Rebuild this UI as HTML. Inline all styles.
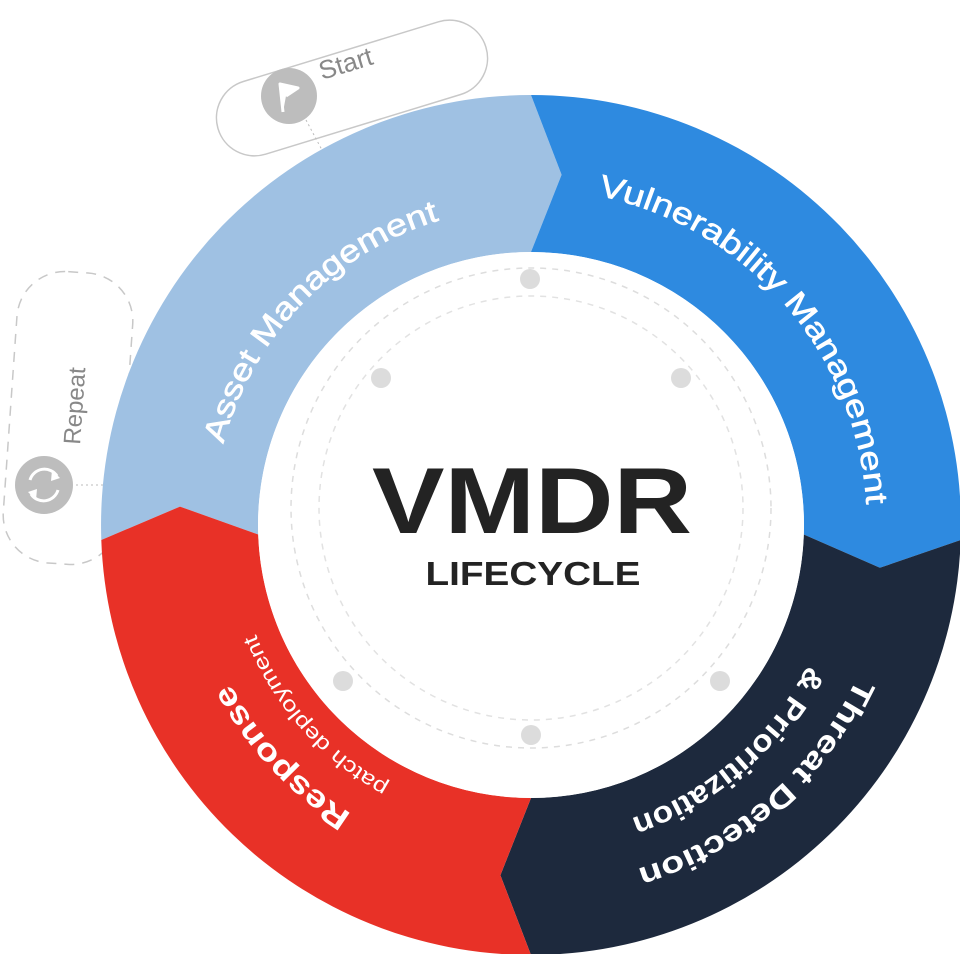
<!DOCTYPE html>
<html><head><meta charset="utf-8"><style>
html,body{margin:0;padding:0;background:#fff;}
svg{display:block;}
text{font-family:"Liberation Sans",sans-serif;}
</style></head><body>
<svg id="s" width="960" height="954" viewBox="0 0 960 954" xmlns="http://www.w3.org/2000/svg">
<defs>
<path id="tAsset" d=""/><path id="tVuln" d=""/><path id="tT1" d=""/><path id="tT2" d=""/><path id="tR1" d=""/><path id="tR2" d=""/>
</defs>
<g transform="rotate(-17 352 88)">
<rect x="212" y="50" width="280" height="76" rx="38" fill="none" stroke="#c8c8c8" stroke-width="1.5"/>
</g>
<line x1="306" y1="120" x2="322" y2="150" stroke="#bbb" stroke-dasharray="2 3"/>
<circle cx="289" cy="96" r="28" fill="#bdbdbd"/>
<path d="M283 112 L280 84 L298 88 L286 96" fill="#fff" stroke="#fff" stroke-width="3" stroke-linejoin="round"/>
<text x="322" y="80" font-size="26" fill="#888" transform="rotate(-17 322 80)">Start</text>
<g transform="rotate(4 68 418)">
<rect x="10" y="272" width="116" height="292" rx="48" fill="none" stroke="#c8c8c8" stroke-width="1.5" stroke-dasharray="10 8"/>
</g>
<line x1="76" y1="485" x2="103" y2="485" stroke="#bbb" stroke-dasharray="2 3"/>
<circle cx="44" cy="485" r="29" fill="#bdbdbd"/>
<path d="M30 480 A15 15 0 0 1 57 476 M58 490 A15 15 0 0 1 31 494" fill="none" stroke="#fff" stroke-width="3"/>
<path d="M52 470 L60 478 L51 481Z M36 500 L28 492 L37 489Z" fill="#fff"/>
<text x="80" y="445" font-size="24" fill="#888" transform="rotate(-86 80 445)">Repeat</text>
<g id="segs"></g>
<circle cx="531" cy="525" r="273" fill="#fff"/>
<circle cx="531" cy="508" r="240" fill="none" stroke="#ddd" stroke-width="1.5" stroke-dasharray="6 6"/>
<circle cx="531" cy="508" r="212" fill="none" stroke="#e2e2e2" stroke-width="1.5" stroke-dasharray="6 6"/>
<g fill="#dcdcdc"><circle cx="530" cy="279" r="10"/><circle cx="681" cy="378" r="10"/><circle cx="381" cy="378" r="10"/><circle cx="343" cy="681" r="10"/><circle cx="720" cy="681" r="10"/><circle cx="531" cy="735" r="10"/></g>
<text x="532" y="533" font-size="94" font-weight="bold" fill="#232323" text-anchor="middle" textLength="320" lengthAdjust="spacingAndGlyphs">VMDR</text>
<text x="533" y="585" font-size="33" font-weight="bold" fill="#232323" text-anchor="middle" textLength="215" lengthAdjust="spacingAndGlyphs">LIFECYCLE</text>
<g id="txt" fill="#fff">
<text font-size="31" stroke="#fff" stroke-width="0.6"><textPath href="#tAsset" startOffset="50%" text-anchor="middle" textLength="325" lengthAdjust="spacingAndGlyphs">Asset Management</textPath></text>
<text font-size="31" stroke="#fff" stroke-width="0.6"><textPath href="#tVuln" startOffset="50%" text-anchor="middle" textLength="440" lengthAdjust="spacingAndGlyphs">Vulnerability Management</textPath></text>
<text font-size="30" font-weight="bold"><textPath href="#tT1" startOffset="50%" text-anchor="middle" textLength="300" lengthAdjust="spacingAndGlyphs">Threat Detection</textPath></text>
<text font-size="30" font-weight="bold"><textPath href="#tT2" startOffset="50%" text-anchor="middle" textLength="240" lengthAdjust="spacingAndGlyphs">&amp; Prioritization</textPath></text>
<text font-size="31" font-weight="bold"><textPath href="#tR1" startOffset="50%" text-anchor="middle" textLength="180" lengthAdjust="spacingAndGlyphs">Response</textPath></text>
<text font-size="21"><textPath href="#tR2" startOffset="50%" text-anchor="middle" textLength="205" lengthAdjust="spacingAndGlyphs">patch deployment</textPath></text>
</g>
</svg>
<script>
var cx=531,cy=525,R=430,r=273,rm=(R+r)/2,d=5;
function P(t,rr){t=t*Math.PI/180;return (cx+rr*Math.sin(t)).toFixed(1)+" "+(cy-rr*Math.cos(t)).toFixed(1);}
function seg(a0,a1){return "M"+P(a0,R)+" A"+R+" "+R+" 0 0 1 "+P(a1,R)+" L"+P(a1+d,rm)+" L"+P(a1,r)+" A"+r+" "+r+" 0 0 0 "+P(a0,r)+" L"+P(a0+d,rm)+" Z";}
var segs=[[-92,0,"#9fc1e3"],[0,92,"#2e8ae0"],[92,180,"#1d293d"],[180,268,"#e83127"]];
var g=document.getElementById("segs"),ns="http://www.w3.org/2000/svg";
segs.forEach(function(s){var p=document.createElementNS(ns,"path");p.setAttribute("d",seg(s[0],s[1]));p.setAttribute("fill",s[2]);g.appendChild(p);});
function arc(id,a0,a1,rr){document.getElementById(id).setAttribute("d","M"+P(a0,rr)+" A"+rr+" "+rr+" 0 0 1 "+P(a1,rr));}
arc("tAsset",280,348,318);
arc("tVuln",6,92,336);
arc("tT1",110,168,360);
arc("tT2",112,166,310);
arc("tR1",208,246,340);
arc("tR2",205,252,296);
</script>
</body></html>
